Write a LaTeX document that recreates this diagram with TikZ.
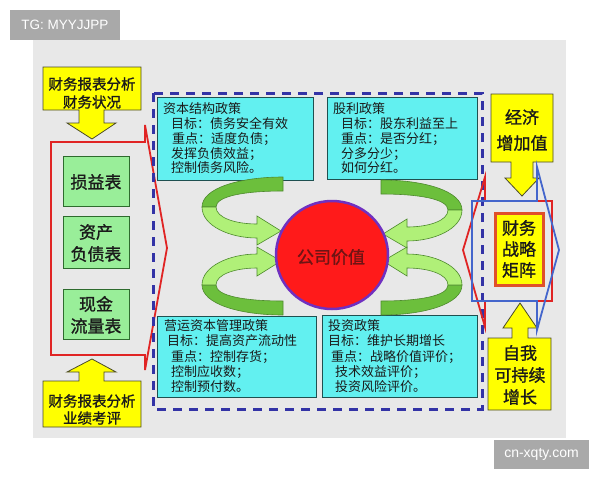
\documentclass[tikz,border=0pt]{standalone}
\usepackage{fontspec}
\setmainfont{Noto Sans CJK SC}
\newfontfamily\cjkb{Noto Sans CJK SC}[FakeBold=1.2]
\newfontfamily\wmfont{Liberation Sans}
\definecolor{panel}{HTML}{E8E8E8}
\definecolor{wmgrey}{HTML}{A9A9A9}
\definecolor{yel}{HTML}{FFFF00}
\definecolor{yelline}{HTML}{4A4A2A}
\definecolor{gboxc}{HTML}{99EE99}
\definecolor{gline}{HTML}{2E6B2E}
\definecolor{cyanbox}{HTML}{62F0F0}
\definecolor{cyanline}{HTML}{1F5050}
\definecolor{dashblue}{HTML}{3333A6}
\definecolor{redline}{HTML}{E02424}
\definecolor{blueline}{HTML}{4466CC}
\definecolor{circfill}{HTML}{FF1A1A}
\definecolor{circline}{HTML}{7030C0}
\definecolor{garrowL}{HTML}{B0F078}
\definecolor{garrowD}{HTML}{6CBF3C}
\definecolor{garrowline}{HTML}{4E8A2E}
\definecolor{matline}{HTML}{E0502A}
\definecolor{txt}{HTML}{1A1A1A}
\tikzset{
  yarrow/.style={fill=yel, draw=yelline, line width=0.8pt, line join=miter},
  gboxst/.style={draw=gline, fill=gboxc, line width=1pt, minimum width=66pt, inner sep=0pt},
  cboxst/.style={draw=cyanline, fill=cyanbox, line width=1pt},
  ctxt/.style={anchor=west, inner sep=0pt, text=txt, font=\fontsize{13}{15}\selectfont},
  ytxt/.style={inner sep=0pt, text=txt, font=\cjkb\fontsize{14.5}{16}\selectfont},
  btxt/.style={inner sep=0pt, text=txt, font=\cjkb\fontsize{17}{19}\selectfont},
  gtxt/.style={inner sep=0pt, text=txt, font=\cjkb\fontsize{17}{19}\selectfont},
  bracket/.style={line width=1.8pt, line join=miter},
  wm/.style={fill=wmgrey, text=white, inner sep=0pt, font=\wmfont\fontsize{13.5}{15}\selectfont},
  gback/.style={fill=garrowD, draw=garrowline, line width=0.6pt},
  gfront/.style={fill=garrowL, draw=garrowline, line width=0.6pt}
}
\newcommand\uturnarrow{%
  \path[gback] (202,207) .. controls (202,188) and (240,177) .. (283,177) -- (283,191)
    .. controls (245,191) and (216,196) .. (216,207) -- cycle;
  \path[gfront] (202,207) .. controls (202,226) and (230,238) .. (257,238) -- (257,245)
    -- (281,231) -- (257,216) -- (257,224) .. controls (236,224) and (216,218) .. (216,207) -- cycle;
}
\begin{document}
\begin{tikzpicture}[x=1pt,y=-1pt]
\useasboundingbox (0,0) rectangle (600,480);
\fill[white] (0,0) rectangle (600,480);
% panel
\fill[panel] (33,40) rectangle (566,438);
% watermarks
\fill[wmgrey] (10,10) rectangle (120,40);
\node[wm] (tg) at (65,25) {TG: MYYJJPP};
\fill[wmgrey] (494,440) rectangle (589,469);
\node[wm, font=\wmfont\fontsize{14}{16}\selectfont] (cn) at (541.5,454.5) {cn-xqty.com};

% left red bracket
\draw[redline, bracket] (51,142) -- (145,142) -- (145,125) -- (167,248) -- (145,370) -- (145,355) -- (51,355) -- cycle;

% left green boxes
\node[gboxst, minimum height=50pt] (sy) at (96,181) {};
\node[gtxt] (syt) at (96,182) {损益表};
\node[gboxst, minimum height=52pt] (zc) at (96,242) {};
\node[gtxt] (zct1) at (96,232) {资产};
\node[gtxt] (zct2) at (96,254) {负债表};
\node[gboxst, minimum height=50pt] (xj) at (96,314) {};
\node[gtxt] (xjt1) at (96,304) {现金};
\node[gtxt] (xjt2) at (96,326) {流量表};

% left yellow arrows
\path[yarrow] (43,67) -- (141,67) -- (141,110) -- (104,110) -- (104,123) -- (116,123) -- (92,139)
  -- (67,123) -- (79,123) -- (79,110) -- (43,110) -- cycle;
\node[ytxt] (ya1) at (92,84) {财务报表分析};
\node[ytxt] (ya2) at (92,102) {财务状况};
\path[yarrow] (92,359) -- (116,372) -- (104,372) -- (104,381) -- (141,381) -- (141,427) -- (43,427)
  -- (43,381) -- (79,381) -- (79,372) -- (67,372) -- cycle;
\node[ytxt] (yb1) at (92,401) {财务报表分析};
\node[ytxt] (yb2) at (92,418) {业绩考评};

% dashed frame
\draw[dashblue, line width=3pt, dash pattern=on 9pt off 7pt] (153,93) rectangle (482,409);

% cyan boxes
\draw[cboxst] (157,97) rectangle (313,180);
\node[ctxt] (a1) at (163,109) {资本结构政策};
\node[ctxt] (a2) at (171,124) {目标：债务安全有效};
\node[ctxt] (a3) at (172,139) {重点：适度负债；};
\node[ctxt] (a4) at (171,154) {发挥负债效益；};
\node[ctxt] (a5) at (171,168) {控制债务风险。};

\draw[cboxst] (327,97) rectangle (477,179);
\node[ctxt] (b1) at (333,109) {股利政策};
\node[ctxt] (b2) at (341,124) {目标：股东利益至上};
\node[ctxt] (b3) at (341,139) {重点：是否分红；};
\node[ctxt] (b4) at (341,154) {分多分少；};
\node[ctxt] (b5) at (341,168) {如何分红。};

\draw[cboxst] (157,316) rectangle (316,397);
\node[ctxt] (c1) at (164,326) {营运资本管理政策};
\node[ctxt] (c2) at (167,341) {目标：提高资产流动性};
\node[ctxt] (c3) at (171,357) {重点：控制存货；};
\node[ctxt] (c4) at (171,372) {控制应收数；};
\node[ctxt] (c5) at (171,387) {控制预付数。};

\draw[cboxst] (322,315) rectangle (477,397);
\node[ctxt] (d1) at (328,326) {投资政策};
\node[ctxt] (d2) at (328,341) {目标：维护长期增长};
\node[ctxt] (d3) at (331,357) {重点：战略价值评价；};
\node[ctxt] (d4) at (335,372) {技术效益评价；};
\node[ctxt] (d5) at (335,387) {投资风险评价。};

% green U-turn arrows
\uturnarrow
\begin{scope}[shift={(664,3)}, xscale=-1]\uturnarrow\end{scope}
\begin{scope}[shift={(0,492)}, yscale=-1]\uturnarrow\end{scope}
\begin{scope}[shift={(664,492)}, xscale=-1, yscale=-1]\uturnarrow\end{scope}

% central circle
\draw[fill=circfill, draw=circline, line width=2.5pt] (332,255) ellipse [x radius=56, y radius=54];
\node[inner sep=0pt, text={rgb,255:red,110;green,20;blue,20}, font=\cjkb\fontsize{17}{19}\selectfont] (gs) at (331,257) {公司价值};

% right yellow arrows
\path[yarrow] (491,94) -- (553,94) -- (553,162) -- (533,162) -- (533,178) -- (539,178) -- (522,196)
  -- (505,178) -- (511,178) -- (511,162) -- (491,162) -- cycle;
\node[btxt] (jj1) at (522,117) {经济};
\node[btxt] (jj2) at (522,143) {增加值};
\path[yarrow] (520,303) -- (537,328) -- (528,328) -- (528,338) -- (551,338) -- (551,410) -- (488,410)
  -- (488,338) -- (512,338) -- (512,328) -- (503,328) -- cycle;
\node[btxt] (zw1) at (520,353) {自我};
\node[btxt] (zw2) at (520,375) {可持续};
\node[btxt] (zw3) at (520,397) {增长};

% right brackets
\draw[redline, bracket] (552,201) -- (485,201) -- (485,177) -- (463,250) -- (485,327) -- (485,301) -- (552,301) -- cycle;
\draw[blueline, bracket] (472,201) -- (537,201) -- (537,167) -- (559,250) -- (537,330) -- (537,301) -- (472,301) -- cycle;

% matrix box
\draw[fill=yel, draw=matline, line width=3pt] (495,213) rectangle (543,285);
\node[btxt] (m1) at (519,228) {财务};
\node[btxt] (m2) at (519,249) {战略};
\node[btxt] (m3) at (519,270) {矩阵};
\end{tikzpicture}
\end{document}
